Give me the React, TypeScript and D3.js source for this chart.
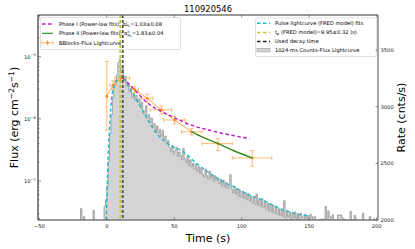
import React from 'react';
import * as d3 from 'd3';

// 1024-ms count-rate histogram (right axis)
const histStart = -20.48;
const histBin = 1.024;
const histRates = [
  1950, 2100, 1970, 2030, 1960, 1940, 1980, 1950, 1930, 1960,
  2085, 1950, 1970, 1940, 1960, 1950, 1975, 1990, 2120, 2180,
  2300, 2520, 2760, 2930, 3080, 3170, 3230, 3280, 3390, 3420,
  3300, 3350, 3240, 3270, 3180, 3210, 3130, 3160, 3080, 3120,
  3060, 3100, 3040, 3070, 2990, 3040, 2940, 2960, 3010, 2900,
  2930, 2860, 2900, 2820, 2850, 2780, 2830, 2770, 2800, 2740,
  2790, 2710, 2740, 2670, 2700, 2640, 2600, 2660, 2580, 2610,
  2640, 2560, 2600, 2570, 2530, 2630, 2540, 2510, 2560, 2480,
  2530, 2470, 2500, 2450, 2490, 2430, 2470, 2410, 2460, 2400,
  2380, 2450, 2390, 2360, 2430, 2370, 2400, 2340, 2390, 2350,
  2370, 2320, 2360, 2300, 2350, 2290, 2330, 2280, 2310, 2400,
  2270, 2240, 2300, 2230, 2280, 2210, 2260, 2200, 2250, 2190,
  2240, 2180, 2230, 2170, 2210, 2150, 2200, 2140, 2230, 2130,
  2180, 2120, 2190, 2110, 2160, 2090, 2150, 2080, 2140, 2070,
  2130, 2060, 2120, 2050, 2100, 2040, 2090, 2030, 2170, 2020,
  2080, 2030, 2070, 2010, 2060, 2020, 2070, 2010, 2050, 2000,
  2060, 2030, 1990, 2050, 2010, 2040, 2000, 2050, 2030, 1990,
  2030, 1990, 1980, 2005, 1990, 2010, 1985, 2010, 2120, 1990,
  2080, 2030, 2010, 2045, 1990, 2000, 1980, 2045, 2040, 2045,
  2020, 2010, 1990, 2000, 1980, 1995, 2075, 1990, 2000, 2040,
  2010, 1990, 1985, 2000, 1980, 2060, 1990, 1995, 1980, 2000,
  2030, 1990, 1985, 2010, 1990, 1995,
];

// FRED pulse fit (right axis)
const fredTime = [-0.4, 0.0, 0.9, 2.3, 4.7, 7.1, 9.95, 12, 18.2, 25.6, 33, 40.3, 47, 56.6, 66.4, 76.3, 86.1, 96, 105.8, 115.7, 125.5, 135.4, 145.2, 150];
const fredRate = [2000, 2141, 2530, 2873, 3164, 3226, 3265, 3255, 3135, 2988, 2830, 2720, 2660, 2602, 2500, 2412, 2338, 2280, 2220, 2176, 2117, 2073, 2044, 2035];

// power-law fits (left axis)
const pl1Time = [11.8, 18, 30.3, 40.3, 49.7, 56.6, 66.5, 76.3, 86.1, 96, 105.8];
const pl1Flux = [4.6e-6, 3.37e-6, 1.79e-6, 1.32e-6, 1.06e-6, 8.95e-7, 7.43e-7, 6.57e-7, 5.82e-7, 5.26e-7, 4.83e-7];
const pl2Time = [62.8, 72, 82.4, 95, 107.8];
const pl2Flux = [6.2e-7, 4.95e-7, 4.0e-7, 3.0e-7, 2.35e-7];

// Bayesian blocks flux points (left axis)
const bbTime = [0.0, 4.6, 10.8, 20.7, 30.0, 40.3, 50.2, 62.8, 82.4, 107.8];
const bbTimeLo = [-0.5, 2.2, 5.9, 17.0, 25.6, 32.0, 42.0, 55.4, 70.6, 93.0];
const bbTimeHi = [0.5, 7.1, 17.0, 23.5, 34.2, 48.0, 58.0, 70.6, 93.0, 122.3];
const bbFlux = [2.3e-6, 3.5e-6, 4.5e-6, 2.95e-6, 2.15e-6, 1.4e-6, 9.6e-7, 6.2e-7, 4.0e-7, 2.35e-7];
const bbFluxLo = [6.6e-7, 3.0e-6, 4.1e-6, 2.6e-6, 1.85e-6, 1.2e-6, 8.3e-7, 5.5e-7, 3.1e-7, 1.73e-7];
const bbFluxHi = [8.4e-6, 4.1e-6, 5.0e-6, 3.35e-6, 2.5e-6, 1.62e-6, 1.1e-6, 7.0e-7, 4.8e-7, 3.1e-7];

const tPeak = 9.95;
const tDecay = 11.8;

const xTicks = [-50, 0, 50, 100, 150, 200];
const yLeftTicks = [1e-7, 1e-6, 1e-5];
const yLeftExp = ['\u22127', '\u22126', '\u22125'];
const yRightTicks = [2000, 2500, 3000, 3500];

const W = 415, H = 249;
const L = 38, R = 378, T = 15, B = 220;
const FONT = 'DejaVu Sans';

const C_MAG = '#c41cc4';
const C_CYAN = '#1fbcc8';
const C_YEL = '#c6c62c';
const C_DARK = '#555555';
const C_GREEN = '#138a13';
const C_ORANGE = '#ff8c1a';
const C_ORANGE_L = '#ffb463';

export default function App() {
  const x = d3.scaleLinear().domain([-51, 201]).range([L, R]);
  const yL = d3.scaleLog().domain([2.36e-8, 4.69e-5]).range([B, T]);
  const yR = d3.scaleLinear().domain([2000, 3809]).range([B, T]);

  // histogram step
  const histPts: [number, number][] = histRates.map((v, i) => [histStart + i * histBin, v]);
  histPts.push([histStart + histRates.length * histBin, histRates[histRates.length - 1]]);
  const histArea = d3.area<[number, number]>()
    .x(d => x(d[0])).y0(B + 20).y1(d => yR(d[1]))
    .curve(d3.curveStepAfter)(histPts) || '';
  const histLine = d3.line<[number, number]>()
    .x(d => x(d[0])).y(d => yR(d[1]))
    .curve(d3.curveStepAfter)(histPts) || '';

  const fredPath = d3.line<number>()
    .x((_, i) => x(fredTime[i])).y(d => yR(d))
    .curve(d3.curveMonotoneX)(fredRate) || '';
  const pl1Path = d3.line<number>()
    .x((_, i) => x(pl1Time[i])).y(d => yL(d))
    .curve(d3.curveMonotoneX)(pl1Flux) || '';
  const pl2Path = d3.line<number>()
    .x((_, i) => x(pl2Time[i])).y(d => yL(d))
    .curve(d3.curveMonotoneX)(pl2Flux) || '';
  const bbPath = d3.line<number>()
    .x((_, i) => x(bbTime[i])).y(d => yL(d))(bbFlux) || '';

  // minor log ticks
  const minor: number[] = [];
  for (let k = -8; k <= -5; k++) {
    for (let m = 2; m <= 9; m++) {
      const v = m * Math.pow(10, k);
      if (v > yL.domain()[0] && v < yL.domain()[1]) minor.push(v);
    }
  }

  const tickFs = 5.2;
  const legFs = 5.2;

  return (
    <svg width={W} height={H} viewBox={`0 0 ${W} ${H}`}
      style={{ position: 'absolute', left: 0, top: 0, background: '#fff' }}
      fontFamily={FONT}>
      <defs>
        <clipPath id="plot">
          <rect x={L} y={T} width={R - L} height={B - T} />
        </clipPath>
      </defs>
      <rect x={0} y={0} width={W} height={H} fill="#fff" />

      <g clipPath="url(#plot)">
        {/* histogram */}
        <path d={histArea} fill="#d4d4d4" stroke="none" />
        <path d={histLine} fill="none" stroke="#9c9c9c" strokeWidth={0.9} />

        {/* BBlocks error bars */}
        {bbTime.map((t, i) => (
          <g key={'bb' + i} stroke={C_ORANGE_L} strokeWidth={0.9}>
            <line x1={x(bbTimeLo[i])} x2={x(bbTimeHi[i])} y1={yL(bbFlux[i])} y2={yL(bbFlux[i])} />
            <line x1={x(t)} x2={x(t)} y1={yL(bbFluxLo[i])} y2={yL(bbFluxHi[i])} />
            <line x1={x(t) - 2} x2={x(t) + 2} y1={yL(bbFluxLo[i])} y2={yL(bbFluxLo[i])} />
            <line x1={x(t) - 2} x2={x(t) + 2} y1={yL(bbFluxHi[i])} y2={yL(bbFluxHi[i])} />
            <line x1={x(bbTimeLo[i])} x2={x(bbTimeLo[i])} y1={yL(bbFlux[i]) - 2} y2={yL(bbFlux[i]) + 2} />
            <line x1={x(bbTimeHi[i])} x2={x(bbTimeHi[i])} y1={yL(bbFlux[i]) - 2} y2={yL(bbFlux[i]) + 2} />
          </g>
        ))}
        <path d={bbPath} fill="none" stroke={C_ORANGE} strokeWidth={0.8} />
        {bbTime.map((t, i) => (
          <circle key={'bm' + i} cx={x(t)} cy={yL(bbFlux[i])} r={1.3} fill={C_ORANGE} />
        ))}

        {/* fits */}
        <path d={pl1Path} fill="none" stroke={C_MAG} strokeWidth={1.4} strokeDasharray="3.5,2.5" />
        <path d={pl2Path} fill="none" stroke={C_GREEN} strokeWidth={1.1} />
        <path d={fredPath} fill="none" stroke={C_CYAN} strokeWidth={1.4} strokeDasharray="3.5,2.5" />
      </g>

      {/* left legend */}
      <g fontSize={legFs} fill="#000">
        <rect x={40.5} y={17.5} width={140} height={32} rx={1.5} fill="#fff" fillOpacity={0.85} stroke="#cccccc" strokeWidth={0.6} />
        <line x1={42} x2={53} y1={24} y2={24} stroke={C_MAG} strokeWidth={1.4} strokeDasharray="3.5,2.5" />
        <text x={59} y={25.8}>
          Phase I (Power-law fits): α
          <tspan fontSize={3.6} dy={-2}>I</tspan>
          <tspan fontSize={3.6} dx={-1} dy={3.6}>PL</tspan>
          <tspan dy={-1.6}>=1.03±0.08</tspan>
        </text>
        <line x1={42} x2={53} y1={33.3} y2={33.3} stroke={C_GREEN} strokeWidth={1.1} />
        <text x={59} y={35.1}>
          Phase II (Power-law fits): α
          <tspan fontSize={3.6} dy={-2}>II</tspan>
          <tspan fontSize={3.6} dx={-2} dy={3.6}>PL</tspan>
          <tspan dy={-1.6}>=1.83±0.04</tspan>
        </text>
        <g stroke={C_ORANGE_L} strokeWidth={0.9}>
          <line x1={42} x2={53} y1={42.7} y2={42.7} />
          <line x1={47.5} x2={47.5} y1={40} y2={45.4} />
          <line x1={42} x2={42} y1={40.9} y2={44.5} />
          <line x1={53} x2={53} y1={40.9} y2={44.5} />
        </g>
        <circle cx={47.5} cy={42.7} r={1.3} fill={C_ORANGE} />
        <text x={59} y={44.5}>BBlocks-Flux Lightcurve</text>
      </g>

      {/* vertical lines */}
      <g clipPath="url(#plot)">
        <line x1={x(tPeak)} x2={x(tPeak)} y1={T} y2={B} stroke={C_YEL} strokeWidth={1.8} strokeDasharray="3,2" />
        <line x1={x(tDecay)} x2={x(tDecay)} y1={T} y2={B} stroke={C_DARK} strokeWidth={1.8} strokeDasharray="3,2" />
      </g>

      {/* right legend */}
      <g fontSize={legFs} fill="#000">
        <rect x={255.5} y={18} width={121} height={38.5} rx={1.5} fill="#fff" fillOpacity={0.85} stroke="#cccccc" strokeWidth={0.6} />
        <line x1={257} x2={270} y1={23.3} y2={23.3} stroke={C_CYAN} strokeWidth={1.4} strokeDasharray="3.5,2.5" />
        <text x={275} y={25.1}>Pulse lightcurve (FRED model) fits</text>
        <line x1={257} x2={270} y1={32.5} y2={32.5} stroke={C_YEL} strokeWidth={1.4} strokeDasharray="3.5,2.5" />
        <text x={275} y={34.3}>
          t<tspan fontSize={3.6} dy={1}>p</tspan>
          <tspan dy={-1}> (FRED model)=9.95±0.32 (s)</tspan>
        </text>
        <line x1={257} x2={270} y1={41.5} y2={41.5} stroke="#222" strokeWidth={1.4} strokeDasharray="3.5,2.5" />
        <text x={275} y={43.3}>Used decay time</text>
        <rect x={257} y={48.3} width={13} height={3.6} fill="#d4d4d4" stroke="#9c9c9c" strokeWidth={0.6} />
        <text x={275} y={51.9}>1024-ms Counts-Flux Lightcurve</text>
      </g>

      {/* spines */}
      <line x1={L} x2={R} y1={T} y2={T} stroke="#777" strokeWidth={1.3} />
      <line x1={L} x2={R} y1={B} y2={B} stroke="#777" strokeWidth={1.3} />
      <line x1={L} x2={L} y1={T} y2={B} stroke="#222" strokeWidth={1.1} />
      <line x1={R} x2={R} y1={T} y2={B} stroke="#777" strokeWidth={1.3} />

      {/* x ticks */}
      <g fontSize={tickFs} fill="#222" textAnchor="middle">
        {xTicks.map(t => (
          <g key={'xt' + t}>
            <line x1={x(t)} x2={x(t)} y1={B} y2={B - 2.5} stroke="#444" strokeWidth={0.6} />
            <line x1={x(t)} x2={x(t)} y1={T} y2={T + 2.5} stroke="#444" strokeWidth={0.6} />
            <text x={x(t)} y={228}>{t < 0 ? '\u2212' + Math.abs(t) : String(t)}</text>
          </g>
        ))}
      </g>

      {/* left y ticks */}
      <g fontSize={tickFs} fill="#222">
        {minor.map((v, i) => (
          <line key={'mn' + i} x1={L} x2={L + 1.5} y1={yL(v)} y2={yL(v)} stroke="#444" strokeWidth={0.5} />
        ))}
        {yLeftTicks.map((v, i) => (
          <g key={'yl' + i}>
            <line x1={L} x2={L + 3} y1={yL(v)} y2={yL(v)} stroke="#444" strokeWidth={0.6} />
            <text x={24} y={yL(v) + 2}>
              10<tspan fontSize={3.6} dy={-2.3}>{yLeftExp[i]}</tspan>
            </text>
          </g>
        ))}
      </g>

      {/* right y ticks */}
      <g fontSize={tickFs} fill="#222">
        {yRightTicks.map(v => (
          <g key={'yr' + v}>
            <line x1={R} x2={R - 2.5} y1={yR(v)} y2={yR(v)} stroke="#444" strokeWidth={0.6} />
            <text x={380.5} y={yR(v) + 1.9}>{v}</text>
          </g>
        ))}
      </g>

      {/* titles */}
      <text x={208} y={12} fontSize={8.4} textAnchor="middle" fill="#000">110920546</text>
      <text x={208} y={241.5} fontSize={11} textAnchor="middle" fill="#000">Time (s)</text>
      <text transform="translate(18,117.5) rotate(-90)" fontSize={11} textAnchor="middle" fill="#000">
        Flux (erg cm<tspan fontSize={7.6} dy={-4}>{'\u22122'}</tspan>
        <tspan dy={4}>s</tspan><tspan fontSize={7.6} dy={-4}>{'\u22121'}</tspan>
        <tspan dy={4}>)</tspan>
      </text>
      <text transform="translate(405,117.5) rotate(-90)" fontSize={11} textAnchor="middle" fill="#000">Rate (cnts/s)</text>
    </svg>
  );
}
